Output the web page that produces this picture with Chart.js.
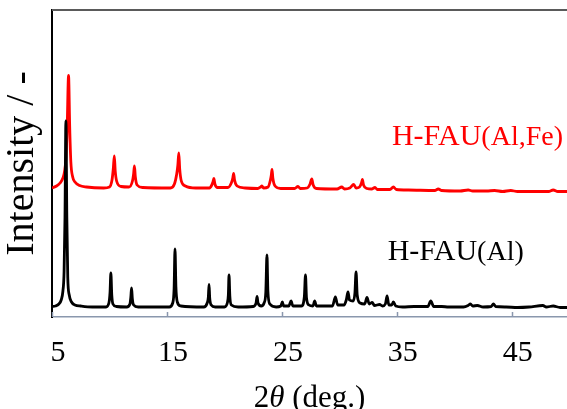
<!DOCTYPE html>
<html>
<head>
<meta charset="utf-8">
<script src="https://cdn.jsdelivr.net/npm/chart.js@4"></script>
<style>
  html, body { margin: 0; padding: 0; background: #fff; }
  #xrd { display: block; }
</style>
</head>
<body>
<canvas id="xrd" width="567" height="409"></canvas>
<script>
// XRD patterns, 2theta in degrees, intensity in arbitrary units
const xTicks = [5, 15, 25, 35, 45]

const seriesNames = ['H-FAU(Al)', 'H-FAU(Al,Fe)']

const alX = [5.0, 5.3, 5.6, 5.8, 5.95, 6.05, 6.13, 6.21, 6.29, 6.37, 6.5, 6.7, 7.0, 7.5, 8.5,
    9.7, 9.95, 10.05, 10.12, 10.2, 10.3, 10.6, 11.5, 11.78, 11.86, 11.92, 11.99, 12.1, 12.5,
    15.2, 15.5, 15.62, 15.7, 15.78, 15.9, 16.2, 18.2, 18.5, 18.6, 18.66, 18.72, 18.85, 19.2,
    20.0, 20.25, 20.34, 20.4, 20.47, 20.6, 21.2, 22.5, 22.75, 22.84, 22.92, 23.2, 23.45, 23.6,
    23.7, 23.78, 23.95, 24.5, 24.9, 25.04, 25.15, 25.6, 25.8, 25.95, 26.7, 26.95, 27.05, 27.14,
    27.35, 27.7, 27.85, 28.0, 29.4, 29.65, 29.85, 30.4, 30.6, 30.75, 30.88, 31.2, 31.35, 31.45,
    31.55, 31.8, 32.2, 32.4, 32.6, 32.85, 33.05, 33.5, 33.75, 34.0, 34.15, 34.3, 34.55, 34.7,
    34.9, 35.5, 36.5, 37.7, 37.95, 38.2, 38.9, 39.5, 40.8, 41.2, 41.4, 41.6, 42.0, 42.5, 43.2,
    43.4, 43.6, 44.5, 45.5, 46.5, 47.7, 48.0, 48.6, 49.2, 50]
const alY = [10.5, 11, 13, 17, 26, 45, 100, 196, 100, 40, 22, 15, 12, 11, 10,
    10, 14, 25, 44, 22, 13, 10.5, 10, 13, 20, 29, 18, 12, 10,
    10, 14, 28, 68, 30, 15, 11, 10, 14, 20, 32.5, 19, 12, 10,
    10, 14, 22, 42, 21, 12, 10, 10.5, 14, 20.5, 14, 11, 14, 25,
    62, 26, 13, 10, 11, 15, 11, 11, 16, 11, 11, 20, 42, 19,
    12, 11, 16, 11, 11, 20, 12, 12, 17, 25, 17, 16, 24, 45,
    22, 14, 13, 19.5, 13, 14.5, 11.5, 12.5, 11, 13, 21, 12, 12, 15,
    11, 10, 10.5, 10.5, 16, 10.5, 10.5, 10, 10, 11.5, 13, 11, 11.5, 10, 10.5,
    13, 10.5, 10, 9.5, 10, 11.5, 10, 11, 9.5, 9.5]

const feX = [5.0, 5.4, 5.7, 5.95, 6.1, 6.22, 6.32, 6.44, 6.54, 6.64, 6.8, 7.0, 7.4, 8.0, 9.5,
    10.0, 10.22, 10.33, 10.42, 10.5, 10.62, 11.0, 11.7, 12.0, 12.1, 12.17, 12.25, 12.4, 12.9,
    15.3, 15.65, 15.85, 15.95, 16.03, 16.11, 16.25, 16.6, 17.5, 18.7, 18.9, 19.0, 19.08, 19.17,
    19.4, 20.3, 20.6, 20.73, 20.8, 20.88, 21.1, 21.8, 22.9, 23.15, 23.26, 23.4, 23.8, 24.0,
    24.08, 24.14, 24.21, 24.4, 24.9, 26.1, 26.4, 26.6, 27.2, 27.45, 27.6, 27.72, 28.0, 29.8,
    30.2, 30.45, 30.9, 31.25, 31.45, 31.75, 31.92, 32.0, 32.1, 32.4, 32.8, 33.1, 33.3, 34.4,
    34.7, 34.95, 36.0, 38.3, 38.6, 38.9, 40.5, 41.2, 41.6, 42.8, 43.5, 44.2, 44.9, 45.5,
    47.0, 48.2, 48.6, 49.0, 50]
const feY = [129, 131, 134, 139, 146, 160, 190, 241.5, 190, 155, 140, 135, 131.5, 130, 129,
    130, 137, 148, 161, 146, 136, 130.5, 130, 136, 143, 151, 140, 132, 129.5,
    129, 133, 143, 152, 164, 148, 136, 131, 129, 129, 132, 135, 138.5, 133,
    129.5, 129.5, 134, 139, 143.7, 137, 131, 129, 128.5, 130, 131, 129, 130, 137,
    142, 147.7, 139, 131, 128.5, 128.5, 130.5, 128.5, 129, 133, 138, 132, 128.5, 128,
    130, 128, 129, 132.5, 129, 130, 134, 137.5, 132, 128.5, 128, 129.5, 127.5, 127.5,
    130, 127.5, 127, 126.5, 128, 126.5, 126, 127, 126, 126, 126.5, 125.5, 126.5, 125.5,
    125.5, 125.5, 127, 125.5, 125.5]

const serif = "'Liberation Serif', 'Times New Roman', serif"

function toPoints(xs, ys) {
    return xs.map((x, i) => ({ x: x, y: ys[i] }))
}

// inward x ticks, top frame line, curve labels and the x title with an italic theta
const decorations = {
    id: 'decorations',
    afterDraw(chart) {
        const ctx = chart.ctx
        const area = chart.chartArea
        const xs = chart.scales.x
        const ys = chart.scales.y
        ctx.save()

        ctx.strokeStyle = '#8a97ad'
        ctx.lineWidth = 1.5
        for (const t of xTicks) {
            const px = Math.round(xs.getPixelForValue(t)) + 0.5
            ctx.beginPath()
            ctx.moveTo(px, area.bottom)
            ctx.lineTo(px, area.bottom - 5)
            ctx.stroke()
        }

        ctx.strokeStyle = '#5a5a5a'
        ctx.lineWidth = 2
        ctx.beginPath()
        ctx.moveTo(area.left, area.top)
        ctx.lineTo(area.right, area.top)
        ctx.stroke()

        ctx.textBaseline = 'alphabetic'
        const labelRows = [
            { main: 'H-FAU', sub: '(Al,Fe)', color: '#ff0000', x: 34.57, y: 172 },
            { main: 'H-FAU', sub: '(Al)', color: '#000000', x: 34.2, y: 57 }
        ]
        for (const r of labelRows) {
            let px = xs.getPixelForValue(r.x)
            const py = ys.getPixelForValue(r.y)
            ctx.fillStyle = r.color
            ctx.font = '30px ' + serif
            ctx.fillText(r.main, px, py)
            px += ctx.measureText(r.main).width
            ctx.font = '28px ' + serif
            ctx.fillText(r.sub, px, py)
        }

        // x axis title: 2θ (deg.)
        const parts = [['2', ''], ['θ', 'italic '], [' (deg.)', '']]
        ctx.fillStyle = '#000'
        let total = 0
        for (const p of parts) {
            ctx.font = p[1] + '31px ' + serif
            total += ctx.measureText(p[0]).width
        }
        let tx = (area.left + area.right) / 2 - total / 2
        for (const p of parts) {
            ctx.font = p[1] + '31px ' + serif
            ctx.fillText(p[0], tx, 407)
            tx += ctx.measureText(p[0]).width
        }
        ctx.restore()
    }
}

new Chart(document.getElementById('xrd'), {
    type: 'line',
    data: {
        datasets: [
            {
                label: seriesNames[0],
                data: toPoints(alX, alY),
                borderColor: '#000000',
                borderWidth: 2.8,
                pointRadius: 0,
                cubicInterpolationMode: 'monotone'
            },
            {
                label: seriesNames[1],
                data: toPoints(feX, feY),
                borderColor: '#ff0000',
                borderWidth: 2.8,
                pointRadius: 0,
                cubicInterpolationMode: 'monotone'
            }
        ]
    },
    options: {
        responsive: false,
        animation: false,
        devicePixelRatio: 1,
        layout: { padding: { top: 10, right: 0, left: 0, bottom: 0 } },
        plugins: {
            legend: { display: false },
            tooltip: { enabled: false }
        },
        scales: {
            x: {
                type: 'linear',
                min: 5,
                max: 49.8,
                afterBuildTicks: (s) => { s.ticks = xTicks.map(v => ({ value: v })) },
                afterFit: (s) => { s.height = 92 },
                grid: { display: false, drawTicks: false },
                border: { display: true, color: '#8a97ad', width: 1.5 },
                ticks: {
                    color: '#000',
                    font: { family: serif, size: 30 },
                    padding: 18,
                    labelOffset: 6,
                    maxRotation: 0,
                    autoSkip: false
                }
            },
            y: {
                min: 0,
                max: 307,
                afterFit: (s) => { s.width = 52 },
                grid: { display: false, drawTicks: false },
                border: { display: true, color: '#000', width: 2 },
                ticks: { display: false },
                title: {
                    display: true,
                    text: 'Intensity / -',
                    color: '#000',
                    font: { family: serif, size: 40 },
                    padding: { top: -2, bottom: 0 }
                }
            }
        }
    },
    plugins: [decorations]
})
</script>
</body>
</html>
